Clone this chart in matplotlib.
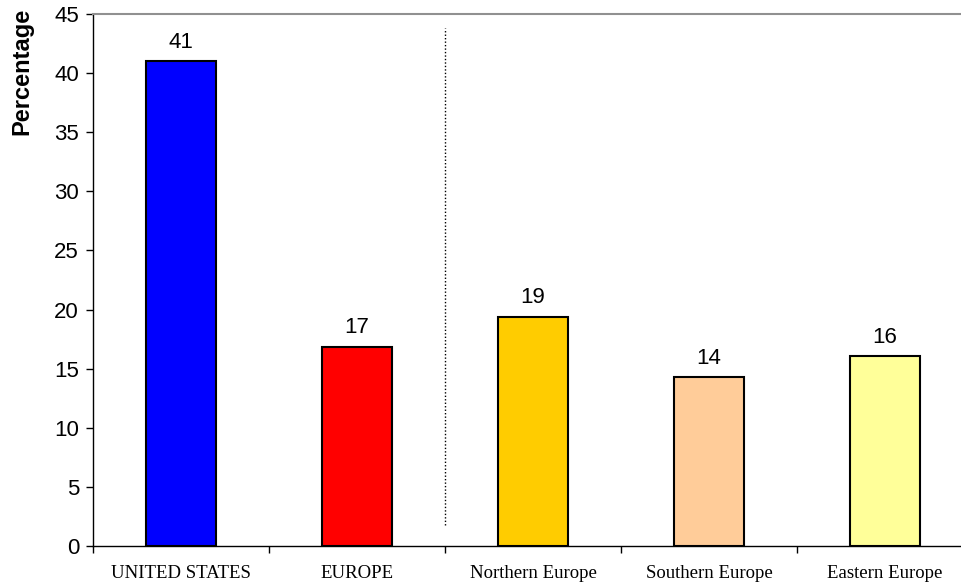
import matplotlib.pyplot as plt

regions = ["UNITED STATES", "EUROPE", "Northern Europe", "Southern Europe", "Eastern Europe"]
values = [41.0, 16.85, 19.4, 14.3, 16.05]
colors = ["#0000FF", "#FF0000", "#FFCC00", "#FFCC99", "#FFFF99"]

fig = plt.figure(figsize=(9.62, 5.88), dpi=100)
ax = fig.add_axes([93 / 962, 42 / 588, 880 / 962, 532 / 588])

x = range(len(regions))
bars = ax.bar(x, values, width=0.4, color=colors, edgecolor="black", linewidth=1.5, zorder=3)

for b, v in zip(bars, values):
    ax.annotate(f"{v:.0f}", (b.get_x() + b.get_width() / 2, v), xytext=(0, 6),
                textcoords="offset points", ha="center", va="bottom",
                fontsize=16, family="Liberation Sans")

# dotted separator between totals and sub-regions
ax.vlines(1.5, 1.8, 43.8, colors="black", linestyles=(0, (1, 1.5)), linewidth=1)

ax.set_xlim(-0.5, len(regions) - 0.5)
ax.set_ylim(0, 45)
ax.set_yticks(range(0, 46, 5))
ax.tick_params(axis="y", labelsize=16, length=5, width=1, direction="out", pad=5)
for t in ax.get_yticklabels():
    t.set_family("Liberation Sans")

# category labels sit between boundary ticks
ax.set_xticks([i - 0.5 for i in range(len(regions) + 1)])
ax.set_xticklabels([])
ax.tick_params(axis="x", length=5, width=1, direction="out")
ax.set_xticks(list(x), minor=True)
ax.set_xticklabels(regions, minor=True, family="Liberation Serif", fontsize=13.5)
ax.tick_params(axis="x", which="minor", length=0, pad=14)

ax.set_ylabel("Percentage", fontsize=17, fontweight="bold", family="Liberation Sans")
ax.yaxis.set_label_coords(-0.068, 0.893)

ax.spines["right"].set_visible(False)
ax.spines["top"].set_color("#909090")
ax.spines["top"].set_linewidth(1.5)
ax.spines["left"].set_linewidth(1)
ax.spines["bottom"].set_linewidth(1)

fig.savefig("out.png", dpi=100)
